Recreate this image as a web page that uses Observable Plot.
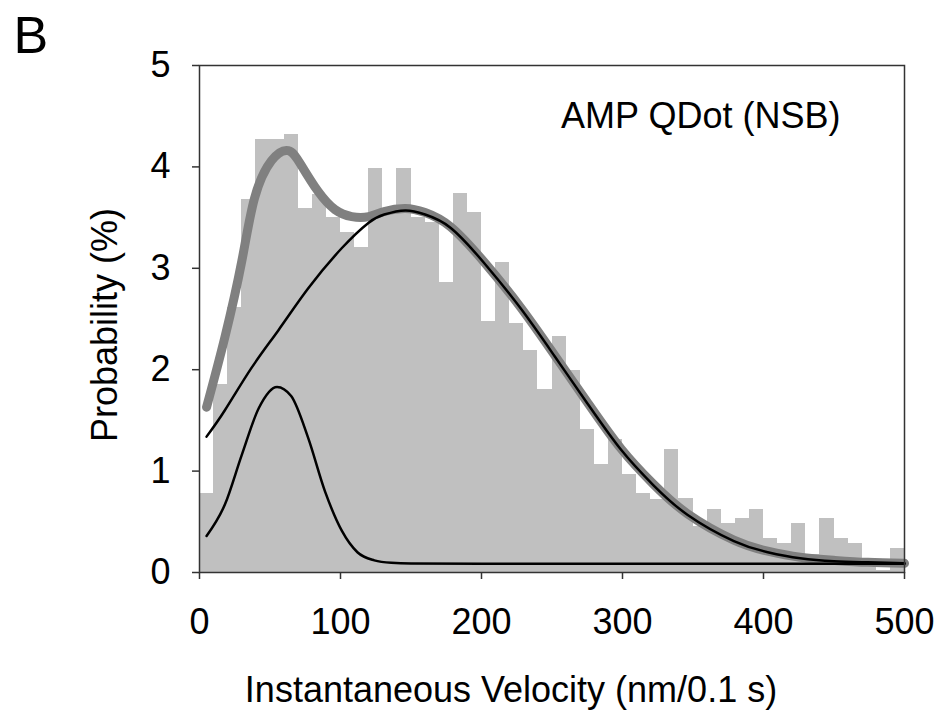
<!DOCTYPE html>
<html>
<head>
<meta charset="utf-8">
<script src="https://cdn.jsdelivr.net/npm/d3@7"></script>
<script src="https://cdn.jsdelivr.net/npm/@observablehq/plot@0.6"></script>
<style>
  body { margin: 0; background: #fff; }
  svg { display: block; }
</style>
</head>
<body>
<div id="chart"></div>
<script>
// Histogram bins (lower edge, nm/0.1 s) and probabilities (%)
const binStart = [0, 10, 20, 30, 40, 50, 60, 70, 80, 90,
  100, 110, 120, 130, 140, 150, 160, 170, 180, 190,
  200, 210, 220, 230, 240, 250, 260, 270, 280, 290,
  300, 310, 320, 330, 340, 350, 360, 370, 380, 390,
  400, 410, 420, 430, 440, 450, 460, 470, 480, 490];
const binWidth = 10;
const probability = [0.78, 1.85, 2.61, 3.68, 4.27, 4.27, 4.32, 3.59, 3.73, 3.50,
  3.35, 3.21, 3.98, 3.55, 3.98, 3.50, 3.45, 2.86, 3.74, 3.55,
  2.48, 3.06, 2.46, 2.19, 1.80, 2.33, 1.99, 1.41, 1.07, 1.31,
  0.97, 0.78, 0.72, 1.21, 0.73, 0.45, 0.62, 0.48, 0.53, 0.62,
  0.34, 0.29, 0.48, 0.18, 0.53, 0.34, 0.29, 0.14, 0.02, 0.24];

// Total fit (thick grey curve)
const totalV = [5, 18, 30, 39, 51, 63, 72, 84, 96, 108, 120, 131, 146, 160, 178, 202, 228, 252, 275, 299, 322, 346, 379, 403, 426, 450, 474, 500];
const totalP = [1.63, 2.32, 3.07, 3.69, 4.06, 4.16, 4.02, 3.76, 3.58, 3.51, 3.51, 3.56, 3.59, 3.55, 3.41, 3.06, 2.61, 2.14, 1.68, 1.22, 0.87, 0.58, 0.32, 0.21, 0.15, 0.12, 0.10, 0.09];

// Broad component (black)
const largeV = [5, 18, 37, 56, 77, 101, 120, 131, 146, 160, 178, 202, 228, 252, 275, 299, 322, 346, 379, 403, 426, 450, 474, 500];
const largeP = [1.34, 1.60, 2.02, 2.39, 2.80, 3.20, 3.45, 3.53, 3.57, 3.53, 3.40, 3.05, 2.60, 2.13, 1.67, 1.21, 0.86, 0.57, 0.31, 0.20, 0.14, 0.11, 0.10, 0.09];

// Narrow component (black)
const smallV = [5, 18, 30, 42, 55, 65, 77, 89, 101, 112, 124, 136, 150, 200, 300, 400, 500];
const smallP = [0.36, 0.67, 1.16, 1.62, 1.83, 1.74, 1.33, 0.80, 0.41, 0.20, 0.12, 0.095, 0.088, 0.086, 0.086, 0.086, 0.086];

const xTicks = [0, 100, 200, 300, 400, 500];
const yTicks = [0, 1, 2, 3, 4, 5];

const bars = binStart.map((x, i) => ({x1: x, x2: x + binWidth, y: probability[i]}));
const total = totalV.map((v, i) => ({v, p: totalP[i]}));
const large = largeV.map((v, i) => ({v, p: largeP[i]}));
const small = smallV.map((v, i) => ({v, p: smallP[i]}));

const font = "'Liberation Sans', Arial, sans-serif";
const axisColor = "#333";

const chart = Plot.plot({
  width: 942,
  height: 710,
  marginLeft: 199,
  marginRight: 38,
  marginTop: 65,
  marginBottom: 138,
  style: {fontFamily: font, fontSize: "36px", color: "#000", background: "#fff"},
  x: {domain: [0, 500]},
  y: {domain: [0, 5]},
  marks: [
    Plot.rectY(bars, {x1: "x1", x2: "x2", y: "y", fill: "#c0c0c0", shapeRendering: "crispEdges"}),
    Plot.line(total, {x: "v", y: "p", stroke: "#808080", strokeWidth: 9, curve: "natural", strokeLinecap: "round", strokeLinejoin: "round"}),
    Plot.line(large, {x: "v", y: "p", stroke: "#000", strokeWidth: 2.5, curve: "natural"}),
    Plot.line(small, {x: "v", y: "p", stroke: "#000", strokeWidth: 2.5, curve: "monotone-x"}),
    Plot.frame({stroke: axisColor, strokeWidth: 1.5}),
    Plot.axisX({ticks: xTicks, tickFormat: "d", tickSize: 7, tickPadding: 29, label: null, fontSize: 36, stroke: axisColor, strokeWidth: 1.5, fill: "#000"}),
    Plot.axisY({ticks: yTicks, tickFormat: "d", tickSize: 7, tickPadding: 22, label: null, fontSize: 36, stroke: axisColor, strokeWidth: 1.5, fill: "#000"}),
    Plot.text(["B"], {text: d => d, frameAnchor: "top-left", textAnchor: "start", lineAnchor: "middle", dx: -186, dy: -29, fontSize: 52, fill: "#000"}),
    Plot.text(["Probability (%)"], {text: d => d, frameAnchor: "left", textAnchor: "middle", rotate: -90, lineAnchor: "middle", dx: -94, dy: 6, fontSize: 36, fill: "#000"}),
    Plot.text(["Instantaneous Velocity (nm/0.1 s)"], {text: d => d, frameAnchor: "bottom", textAnchor: "middle", lineAnchor: "middle", dx: -41, dy: 118, fontSize: 36, fill: "#000"}),
    Plot.text(["AMP QDot (NSB)"], {text: d => d, frameAnchor: "top-right", textAnchor: "end", lineAnchor: "middle", dx: -64, dy: 51, fontSize: 36, fill: "#000"})
  ]
});
document.getElementById("chart").appendChild(chart);
</script>
</body>
</html>
